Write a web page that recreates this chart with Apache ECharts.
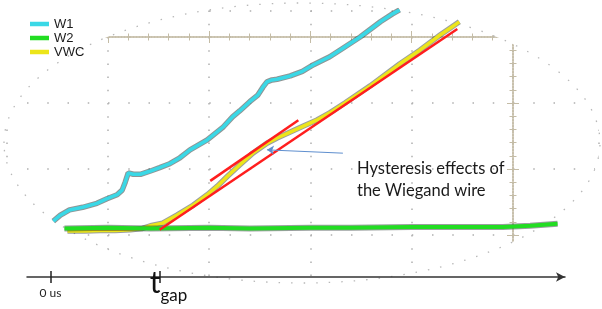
<!DOCTYPE html>
<html>
<head>
<meta charset="utf-8">
<script src="https://cdn.jsdelivr.net/npm/echarts@6/dist/echarts.min.js"></script>
<style>
html, body { margin: 0; padding: 0; background: #fff; }
#chart { width: 602px; height: 309px; }
</style>
</head>
<body>
<div id="chart"></div>
<script>
// values in scope divisions: x = horizontal div, y = vertical div (0 = lowest graticule row)
const W1 = [
  [-0.54, 0.21], [-0.47, 0.30], [-0.38, 0.38], [-0.25, 0.42], [-0.11, 0.48], [-0.01, 0.55],
  [0.09, 0.61], [0.14, 0.68], [0.17, 0.80], [0.20, 0.94], [0.25, 0.92], [0.32, 0.92],
  [0.42, 0.97], [0.51, 1.02], [0.61, 1.08], [0.71, 1.17], [0.81, 1.29], [0.98, 1.44],
  [1.14, 1.64], [1.23, 1.79], [1.30, 1.88], [1.40, 2.02], [1.48, 2.12], [1.53, 2.24],
  [1.57, 2.32], [1.62, 2.35], [1.67, 2.36], [1.80, 2.41], [1.92, 2.48], [2.03, 2.58],
  [2.19, 2.70], [2.32, 2.83], [2.49, 3.00], [2.69, 3.23], [2.81, 3.35], [2.88, 3.41]
];
const W2 = [
  [-0.43, 0.10], [0.00, 0.11], [0.42, 0.10], [1.00, 0.11], [1.40, 0.10], [2.00, 0.11],
  [2.40, 0.11], [3.00, 0.12], [3.40, 0.12], [3.90, 0.12], [4.17, 0.14], [4.44, 0.17]
];
const VWC = [
  [-0.40, 0.06], [-0.23, 0.06], [-0.08, 0.07], [0.07, 0.07], [0.22, 0.08], [0.34, 0.10],
  [0.42, 0.14], [0.54, 0.18], [0.68, 0.30], [0.84, 0.45], [0.98, 0.61], [1.08, 0.74],
  [1.18, 0.89], [1.30, 1.06], [1.43, 1.24], [1.57, 1.39], [1.67, 1.47], [1.80, 1.56],
  [1.93, 1.65], [2.06, 1.74], [2.19, 1.85], [2.34, 2.00], [2.59, 2.26], [2.88, 2.59],
  [3.08, 2.80], [3.28, 3.03], [3.47, 3.23]
];
const FIT_LOW = [[0.51, 0.08], [3.45, 3.12]];
const FIT_HIGH = [[1.01, 0.82], [1.88, 1.74]];
const ARROW = [[2.32, 1.24], [1.57, 1.29]];

// time axis below the screen
const TIME_TICKS = [0, 1.08];
const TIME_LABELS = ['0 us', 'gap'];

const GRID_DOT = '#b0b0b0';
const TAN = '#c4bca6';

const chart = echarts.init(document.getElementById('chart'));

function scopeX(position, offset, grid) {
  return {
    type: 'value', gridIndex: 0, min: -1, max: 4.85, interval: 1,
    position: position, offset: offset, z: 0,
    axisLine: { show: true, onZero: false, lineStyle: { color: TAN, width: 1.5, type: 'dotted' } },
    axisTick: { show: true, length: 6, lineStyle: { color: TAN, width: 1 } },
    minorTick: { show: true, splitNumber: 5, length: 3.5, lineStyle: { color: TAN, width: 1 } },
    axisLabel: { show: false },
    splitLine: { show: grid, lineStyle: { color: GRID_DOT, width: 1.5, type: [1.5, 11.7] } }
  };
}

function scopeY(position, offset, grid) {
  return {
    type: 'value', gridIndex: 0, min: -1, max: 3.4, interval: 1,
    position: position, offset: offset, z: 0,
    axisLine: { show: true, onZero: false, lineStyle: { color: TAN, width: 1.5, type: 'dotted' } },
    axisTick: { show: true, length: 6, lineStyle: { color: TAN, width: 1 } },
    minorTick: { show: true, splitNumber: 5, length: 3.5, lineStyle: { color: TAN, width: 1 } },
    axisLabel: { show: false },
    splitLine: { show: grid, lineStyle: { color: GRID_DOT, width: 1.5, type: [1.5, 18.75] } }
  };
}

function trace(name, data, color, width, noise) {
  return [
    {
      name: name + ' noise', type: 'line', data: data, showSymbol: false, silent: true,
      color: '#1f2b2b', lineStyle: { width: width + 2, opacity: noise }, z: 2
    },
    {
      name: name, type: 'line', data: data, showSymbol: false, silent: true,
      color: color, lineStyle: { width: width }, z: 2
    }
  ];
}

function fitLine(data, extra) {
  return Object.assign({
    name: 'fit', type: 'line', data: data, showSymbol: false, silent: true,
    color: '#ff1e1e', lineStyle: { width: 2.5 }, z: 3
  }, extra || {});
}

chart.setOption({
  animation: false,
  backgroundColor: '#fff',
  grid: [
    { left: 6.75, right: 2.94, top: 10.6, bottom: 8 },
    { left: 27, right: 37, top: 277, height: 0 }
  ],
  xAxis: [
    scopeX('top', -26.4, true),
    scopeX('bottom', -264, false),
    {
      type: 'value', gridIndex: 1, min: -0.23, max: 5.09, position: 'bottom', z: 3,
      axisLine: { show: true, onZero: false, symbol: ['none', 'arrow'], symbolSize: [7, 9],
        lineStyle: { color: '#333', width: 1.5 } },
      axisTick: { show: true, length: 6, customValues: TIME_TICKS, lineStyle: { color: '#222', width: 1.5 } },
      axisLabel: {
        show: true, customValues: TIME_TICKS, margin: -9,
        formatter: function (v) {
          return Math.abs(v) < 1e-6 ? '{s| }{u|' + TIME_LABELS[0] + '}' : '{t|t}{g|' + TIME_LABELS[1] + '}';
        },
        rich: {
          s: { fontSize: 1, lineHeight: 31 },
          u: { fontFamily: 'Lato', fontSize: 12, color: '#222', lineHeight: 16, verticalAlign: 'bottom' },
          t: { fontFamily: 'Lato', fontSize: 30, color: '#111', lineHeight: 36, verticalAlign: 'top', padding: [0, 0, 0, 18] },
          g: { fontFamily: 'Lato', fontSize: 17, color: '#111', lineHeight: 17, verticalAlign: 'bottom' }
        }
      },
      splitLine: { show: false }
    },
    {
      type: 'value', gridIndex: 1, min: -0.23, max: 5.09, position: 'top', z: 3,
      axisLine: { show: false, onZero: false },
      axisTick: { show: true, length: 6, customValues: TIME_TICKS, lineStyle: { color: '#222', width: 1.5 } },
      axisLabel: { show: false },
      splitLine: { show: false }
    }
  ],
  yAxis: [
    scopeY('left', -506.25, true),
    scopeY('right', -86.06, false),
    { type: 'value', gridIndex: 1, show: false }
  ],
  legend: {
    data: ['W1', 'W2', 'VWC'], orient: 'vertical', left: 25, top: 12,
    itemWidth: 19, itemHeight: 4.5, itemGap: 0, icon: 'rect', selectedMode: false,
    textStyle: { fontFamily: 'Liberation Sans', fontSize: 13, color: '#1a1a1a', lineHeight: 14 }
  },
  graphic: [
    {
      // white surround: everything outside the oval screen crop
      type: 'circle', z: 1, silent: true, x: 302, y: 143, scaleX: 298, scaleY: 140,
      shape: { cx: 0, cy: 0, r: 2 }, style: { fill: 'none', stroke: '#fff', lineWidth: 2 }
    },
    {
      type: 'ellipse', z: 1, silent: true,
      shape: { cx: 302, cy: 143, rx: 298, ry: 140 },
      style: { fill: 'none', stroke: '#b8b8b8', lineWidth: 1.3, lineDash: [1.5, 11] }
    },
    {
      type: 'text', z: 5, left: 357, top: 158, silent: true,
      style: { text: 'Hysteresis effects of\nthe Wiegand wire', fontFamily: 'Lato', fontSize: 16.5,
        lineHeight: 22, fill: '#1a1a1a' }
    }
  ],
  series: [].concat(
    trace('W1', W1, '#3ad8e6', 3.5, 0.5),
    trace('VWC', VWC, '#ece51a', 3.5, 0.45),
    trace('W2', W2, '#22dd22', 4, 0.45),
    [
      fitLine(FIT_LOW),
      fitLine(FIT_HIGH, {
        markLine: {
          silent: true, animation: false, symbol: ['none', 'arrow'], symbolSize: 7,
          label: { show: false }, lineStyle: { color: '#5f8fcf', width: 1, type: 'solid' },
          data: [[{ coord: ARROW[0] }, { coord: ARROW[1] }]]
        }
      })
    ]
  )
});
</script>
</body>
</html>
